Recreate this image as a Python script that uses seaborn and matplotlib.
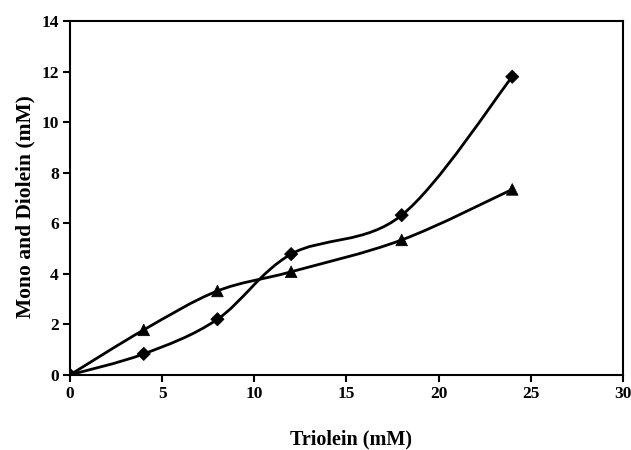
import numpy as np
import pandas as pd
import matplotlib
matplotlib.use("Agg")
import matplotlib.pyplot as plt
from matplotlib.path import Path
from matplotlib.patches import PathPatch
import seaborn as sns

# data
triolein = [0, 4, 8, 12, 18, 24]
mono_di_diamond = [0, 0.83, 2.2, 4.78, 6.32, 11.8]
mono_di_triangle = [0, 1.78, 3.32, 4.08, 5.34, 7.34]
x_ticks = [0, 5, 10, 15, 20, 25, 30]
y_ticks = [0, 2, 4, 6, 8, 10, 12, 14]


def smooth_path(xs, ys):
    # spreadsheet-style smoothed line: bezier segments through the points
    p = np.column_stack([xs, ys]).astype(float)
    n = len(p)
    verts = [p[0]]
    codes = [Path.MOVETO]
    for i in range(n - 1):
        p0 = p[i - 1] if i > 0 else p[i]
        p3 = p[i + 2] if i + 2 < n else p[i + 1]
        c1 = p[i] + (p[i + 1] - p0) / 6
        c2 = p[i + 1] - (p3 - p[i]) / 6
        verts += [c1, c2, p[i + 1]]
        codes += [Path.CURVE4] * 3
    return Path(verts, codes)


sns.set_style("ticks")
plt.rcParams["font.family"] = ["Liberation Serif", "DejaVu Serif"]
plt.rcParams["font.weight"] = "bold"
plt.rcParams["text.color"] = "black"
plt.rcParams["axes.labelcolor"] = "black"
plt.rcParams["xtick.color"] = "black"
plt.rcParams["ytick.color"] = "black"

df = pd.DataFrame({
    "x": triolein * 2,
    "y": mono_di_diamond + mono_di_triangle,
    "s": ["diamond"] * len(triolein) + ["triangle"] * len(triolein),
})

fig = plt.figure(figsize=(6.31, 4.5), dpi=100)
ax = fig.add_axes([0.111, 0.167, 0.876, 0.786])

for ys in (mono_di_diamond, mono_di_triangle):
    ax.add_patch(PathPatch(smooth_path(triolein, ys), facecolor="none",
                           edgecolor="black", lw=2, zorder=2))

sns.scatterplot(data=df, x="x", y="y", style="s", markers={"diamond": "D", "triangle": "^"},
                size="s", sizes={"diamond": 45, "triangle": 70},
                color="black", edgecolor="black", legend=False, ax=ax, zorder=3)

ax.set_xlim(0, 30)
ax.set_ylim(0, 14)
ax.set_xticks(x_ticks)
ax.set_yticks(y_ticks)
ax.tick_params(labelsize=12.5, width=1.5, length=5, direction="out", pad=3,
               colors="black")
for lab in ax.get_xticklabels() + ax.get_yticklabels():
    lab.set_fontweight("bold")
for sp in ax.spines.values():
    sp.set_linewidth(1.5)
    sp.set_color("black")

ax.set_xlabel("Triolein (mM)", fontsize=14.5, fontweight="bold", color="black")
ax.set_ylabel("Mono and Diolein (mM)", fontsize=15.5, fontweight="bold", color="black")
ax.xaxis.set_label_coords(0.508, -0.155)
ax.yaxis.set_label_coords(-0.063, 0.477)

fig.savefig("out.png", dpi=100)
